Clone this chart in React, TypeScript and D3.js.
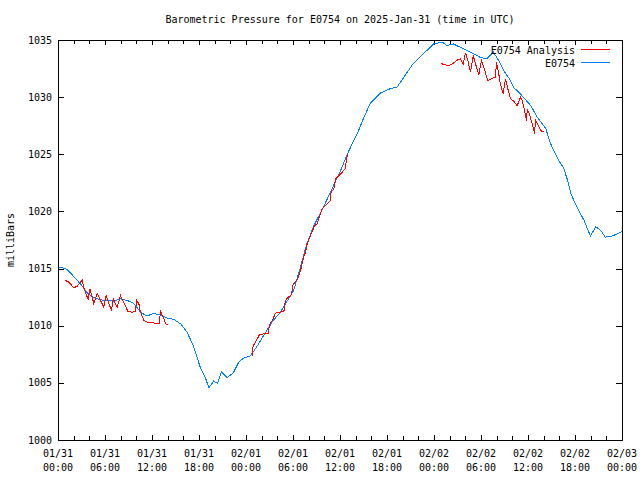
import React from "react";
import * as d3 from "d3";

// Data: hours since 2025-01-31 00:00 UTC, pressure in millibars
const startTime = Date.UTC(2025, 0, 31, 0, 0);
const totalHours = 72;

const observed: [number, number][] = [
  [0, 1015.2], [0.5, 1015.1], [1, 1015.0], [1.5, 1014.7], [2, 1014.3], [2.8, 1013.7], [3.7, 1012.9],
  [4.5, 1012.5], [5.4, 1012.3], [6.2, 1012.25], [7, 1012.2], [7.9, 1012.4], [8.8, 1012.25], [9.6, 1012.0],
  [10.5, 1011.2], [11.3, 1010.9], [12.1, 1011.1], [13, 1011.0], [13.9, 1010.7], [14.7, 1010.6], [15.6, 1010.2],
  [16.4, 1009.5], [17.2, 1008.3], [18.1, 1006.4], [18.8, 1005.4], [19.2, 1004.6], [19.8, 1005.2], [20.3, 1005.0],
  [20.8, 1006.0], [21.5, 1005.5], [22.3, 1005.9], [23, 1006.85], [23.6, 1007.2], [24.5, 1007.4], [25.4, 1008.3],
  [26.2, 1009.2], [27.4, 1010.5], [28.3, 1011.2], [30, 1013.1], [30.9, 1015.2], [31.7, 1017.2], [32.6, 1018.8],
  [33.8, 1020.4], [34.9, 1022.0], [36, 1023.6], [36.9, 1025.1], [37.7, 1026.25], [38.3, 1027.1], [39, 1028.3],
  [39.8, 1029.5], [41.1, 1030.4], [42.4, 1030.8], [43.2, 1030.9], [44, 1031.7], [45.3, 1033.0], [46.6, 1033.85],
  [47.9, 1034.7], [49, 1034.85], [49.6, 1034.55], [50.4, 1034.7], [51.3, 1034.4], [52.2, 1034.1], [53, 1033.85],
  [53.9, 1033.5], [54.7, 1033.4], [55.5, 1034.0], [56.2, 1033.25], [56.8, 1032.4], [57.7, 1031.5], [58.1, 1030.9],
  [59, 1030.3], [60.3, 1029.3], [61.1, 1028.3], [62.2, 1027.3], [62.8, 1026.0], [63.7, 1024.7], [64.5, 1023.8],
  [65, 1022.75], [65.4, 1021.6], [66.2, 1020.4], [67.1, 1019.25], [67.9, 1017.9], [68.6, 1018.7], [69.2, 1018.4],
  [69.8, 1017.8], [70.7, 1017.9], [71.7, 1018.2], [72, 1018.3],
];

const analysisA: [number, number][] = [
  [0.89, 1014.0], [1.32, 1013.85], [1.96, 1013.36], [2.38, 1013.5], [2.81, 1013.85], [3.02, 1014.06],
  [3.23, 1013.4], [3.45, 1012.98], [3.79, 1012.3], [4.0, 1013.26], [4.3, 1012.54], [4.51, 1011.96],
  [4.94, 1012.89], [5.36, 1012.25], [5.79, 1011.67], [6.09, 1012.69], [6.43, 1011.96], [6.77, 1011.4],
  [6.98, 1012.4], [7.28, 1011.96], [7.49, 1011.67], [7.91, 1012.69], [8.21, 1012.25], [8.55, 1011.8],
  [8.85, 1011.3], [9.4, 1011.23], [9.83, 1011.3], [9.96, 1012.3], [10.26, 1011.96], [10.47, 1011.23],
  [10.9, 1010.5], [11.32, 1010.35], [11.74, 1010.3], [12.38, 1010.27], [12.89, 1010.27], [13.02, 1011.4],
  [13.23, 1010.94], [13.45, 1010.65], [13.74, 1010.15], [14.0, 1010.1],
];

const analysisB: [number, number][] = [
  [24.7, 1007.37], [24.85, 1008.3], [25.15, 1008.6], [25.66, 1009.27], [26.2, 1009.33], [26.85, 1009.33],
  [26.86, 1009.77], [26.98, 1010.2], [27.3, 1010.5], [27.7, 1011.14], [28.4, 1011.23], [28.85, 1011.37],
  [28.86, 1011.96], [29.1, 1012.4], [29.7, 1012.75], [29.83, 1013.18], [29.96, 1013.65], [30.55, 1014.14],
  [30.9, 1014.875], [31.24, 1015.9], [31.53, 1016.48], [31.74, 1017.2], [32.2, 1018.0], [32.7, 1018.8],
  [33.0, 1018.96], [33.66, 1020.27], [34.3, 1020.7], [34.7, 1021.0], [34.8, 1021.74], [35.15, 1022.03],
  [35.36, 1022.9], [35.99, 1023.3], [36.6, 1023.77], [36.77, 1024.64], [36.94, 1025.1],
];

const analysisC: [number, number][] = [
  [48.8, 1033.0], [49.2, 1032.9], [49.8, 1032.8], [50.4, 1033.0], [50.8, 1033.25], [51.3, 1033.4],
  [51.66, 1032.96], [51.96, 1033.93], [52.25, 1033.25], [52.6, 1032.23], [52.94, 1033.69], [53.23, 1032.96],
  [53.66, 1032.02], [54.0, 1033.25], [54.3, 1032.66], [54.8, 1031.5], [55.24, 1031.64], [55.8, 1031.8],
  [55.9, 1033.1], [56.2, 1032.1], [56.4, 1031.2], [56.77, 1030.33], [57.06, 1031.64], [57.36, 1030.77],
  [57.7, 1029.9], [58.1, 1029.7], [58.55, 1029.3], [58.98, 1030.04], [59.19, 1029.75], [59.5, 1028.9],
  [59.74, 1028.0], [59.85, 1029.0], [60.17, 1028.44], [60.47, 1027.7], [60.77, 1026.86], [60.9, 1028.0],
  [61.3, 1027.5], [61.7, 1027.0], [62.0, 1027.0],
];

const yTicks = [1000, 1005, 1010, 1015, 1020, 1025, 1030, 1035];
const seriesNames = ["E0754 Analysis", "E0754"];
const seriesColors = ["#ff0000", "#0080ff"];
const title = "Barometric Pressure for E0754 on 2025-Jan-31 (time in UTC)";
const yLabel = "milliBars";

const W = 640, H = 480;
const M = { left: 58, right: 622, top: 40, bottom: 440 };
const FONT = "'DejaVu Sans Mono', 'Liberation Mono', monospace";

const toDate = (h: number) => new Date(startTime + h * 3600 * 1000);

export default function App() {
  const x = d3.scaleUtc().domain([toDate(0), toDate(totalHours)]).range([M.left, M.right]);
  const y = d3.scaleLinear().domain([1000, 1035]).range([M.bottom, M.top]);
  const line = d3.line<[number, number]>().x((d) => x(toDate(d[0])) + 0.5).y((d) => y(d[1]) + 0.5);

  const majorTicks = x.ticks(d3.utcHour.every(6)!);
  const minorTicks = x.ticks(d3.utcHour.every(2)!);
  const fmtDate = d3.utcFormat("%m/%d");
  const fmtTime = d3.utcFormat("%H:%M");

  return (
    <svg width={W} height={H} style={{ position: "absolute", left: 0, top: 0, background: "#fff" }}
      fontFamily={FONT} fontSize={10}>
      <rect x={0} y={0} width={W} height={H} fill="#fff" />
      <text x={(M.left + M.right) / 2} y={23} textAnchor="middle" fill="#000">{title}</text>
      <text transform={`translate(14,${(M.top + M.bottom) / 2}) rotate(-90)`} textAnchor="middle" fill="#000">{yLabel}</text>

      {minorTicks.map((t, i) => {
        const xx = Math.round(x(t)) + 0.5;
        const major = majorTicks.some((m) => +m === +t);
        const len = major ? 5 : 4;
        return (
          <g key={"xt" + i} stroke="#000" shapeRendering="crispEdges">
            <line x1={xx} x2={xx} y1={M.bottom} y2={M.bottom - len} />
            <line x1={xx} x2={xx} y1={M.top} y2={M.top + len} />
          </g>
        );
      })}
      {majorTicks.map((t, i) => (
        <g key={"xl" + i} fill="#000" textAnchor="middle">
          <text x={x(t)} y={457}>{fmtDate(t)}</text>
          <text x={x(t)} y={471}>{fmtTime(t)}</text>
        </g>
      ))}

      {yTicks.map((v, i) => {
        const yy = Math.round(y(v)) + 0.5;
        return (
          <g key={"yt" + i}>
            <line x1={M.left} x2={M.left + 6} y1={yy} y2={yy} stroke="#000" shapeRendering="crispEdges" />
            <line x1={M.right} x2={M.right - 6} y1={yy} y2={yy} stroke="#000" shapeRendering="crispEdges" />
            <text x={52} y={y(v)} dy="0.35em" textAnchor="end" fill="#000">{v}</text>
          </g>
        );
      })}

      <g fill="none" strokeWidth={1} shapeRendering="crispEdges">
        <path d={line(observed) || ""} stroke={seriesColors[1]} />
        <path d={line(analysisA) || ""} stroke={seriesColors[0]} />
        <path d={line(analysisB) || ""} stroke={seriesColors[0]} />
        <path d={line(analysisC) || ""} stroke={seriesColors[0]} />
      </g>

      <rect x={M.left + 0.5} y={M.top + 0.5} width={M.right - M.left} height={M.bottom - M.top}
        fill="none" stroke="#000" shapeRendering="crispEdges" />

      {seriesNames.map((name, i) => (
        <g key={name}>
          <text x={575} y={50 + i * 13} dy="0.35em" textAnchor="end" fill="#000">{name}</text>
          <line x1={581} x2={610} y1={49.5 + i * 13} y2={49.5 + i * 13} stroke={seriesColors[i]} shapeRendering="crispEdges" />
        </g>
      ))}
    </svg>
  );
}
